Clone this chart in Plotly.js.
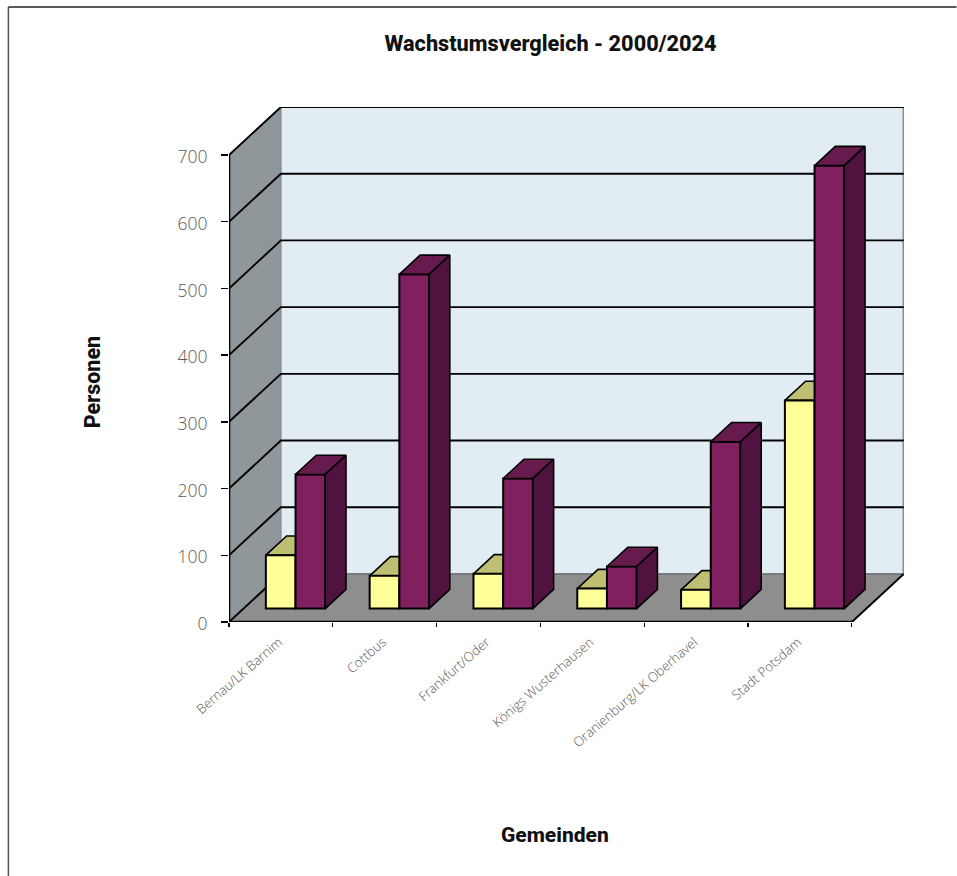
<!DOCTYPE html>
<html>
<head>
<meta charset="utf-8">
<script src="https://cdn.plot.ly/plotly-3.0.1.min.js"></script>
<style>html,body{margin:0;padding:0;background:#fff;overflow:hidden}#chart{width:957px;height:876px}</style>
</head>
<body>
<div id="chart"></div>
<script>
var categories = ["Bernau/LK Barnim","Cottbus","Frankfurt/Oder","Königs Wusterhausen","Oranienburg/LK Oberhavel","Stadt Potsdam"];
var seriesYellow = [80, 49, 52, 30, 28, 312];
var seriesPurple = [201, 501, 195, 63, 250, 664];
var yTicks = [0,100,200,300,400,500,600,700];

var W = 957, H = 876;
var mL = 228.8, mR = 52.6, mT = 107, mB = 254;
var xMax = 6, yMax = 700;
var DX = 0.5, DY = 72;        // full depth of the box in axis units
var D0 = 0.28, D1 = 0.68;     // depth of the bars inside the box
var barW = 0.286, barStart = 0.215;
var xRange = [0, (W - mL - mR) / 103.9];
var yRange = [0, yMax + DY];
var BLACK = '#000';

function poly(name, xs, ys, fill, color, width, axes) {
  var t = {type:'scatter', mode:'lines', name:name, x:xs, y:ys, cliponaxis:false,
           line:{color:color, width:width, simplify:false}, hoverinfo:'skip', showlegend:false};
  if (fill) { t.fill = 'toself'; t.fillcolor = fill; }
  if (axes) { t.xaxis = 'x2'; t.yaxis = 'y2'; }
  return t;
}

var traces = [];
// walls and floor
traces.push(poly('left wall', [0,DX,DX,0,0],[0,DY,yMax+DY,yMax,0],'#8f979a','#7d8588',1));
traces.push(poly('back wall', [DX,xMax+DX,xMax+DX,DX,DX],[DY,DY,yMax+DY,yMax+DY,DY],'#e1ecf3','#8a9094',1.5));
traces.push(poly('floor', [0,xMax,xMax+DX,DX,0],[0,0,DY,DY,0],'#8e8e8e','#6f7376',1.5));
// back right edge
traces.push(poly('right edge',[xMax+DX,xMax+DX],[DY,yMax+DY],null,'#8c8c8c',2.5));
// gridlines
var gx = [], gy = [];
yTicks.slice(1).forEach(function(v){ gx.push(0,DX,xMax+DX,null); gy.push(v,v+DY,v+DY,null); });
gx.push(0,DX,null,xMax,xMax+DX); gy.push(0,DY,null,0,DY);
traces.push(poly('gridlines',gx,gy,null,BLACK,1.9));
// axis lines
traces.push(poly('axis lines',[0,0,xMax],[yMax,0,0],null,BLACK,2.6));

function xOf(i, k) { return i + barStart + k * barW + D0 * DX; }
var base = D0 * DY, dDx = (D1 - D0) * DX, dDy = (D1 - D0) * DY;

function topFace(vals, k) {
  var xs = [], ys = [];
  vals.forEach(function(v,i){
    var a = xOf(i,k), b = a + barW, t = base + v;
    xs.push(a,b,b+dDx,a+dDx,a,null); ys.push(t,t,t+dDy,t+dDy,t,null);
  });
  return {x:xs, y:ys};
}
function sideFace(vals, k) {
  var xs = [], ys = [];
  vals.forEach(function(v,i){
    var b = xOf(i,k) + barW, t = base + v;
    xs.push(b,b+dDx,b+dDx,b,b,null); ys.push(base,base+dDy,t+dDy,t,base,null);
  });
  return {x:xs, y:ys};
}
var yt = topFace(seriesYellow,0);
traces.push(poly('2000 top',yt.x,yt.y,'#bfbf73',BLACK,1.6));

// bars on the overlaid subplot, so they cover the yellow tops
function barTrace(name, vals, k, color) {
  return {type:'bar', name:name, xaxis:'x2', yaxis:'y2', showlegend:false,
    x: vals.map(function(v,i){ return xOf(i,k) + barW/2; }),
    y: vals, base: vals.map(function(){ return base; }), width: barW,
    marker:{color:color, line:{color:BLACK, width:2}}, hoverinfo:'y'};
}
traces.push(barTrace('2000',seriesYellow,0,'#ffff99'));
traces.push(barTrace('2024',seriesPurple,1,'#802060'));
var pt = topFace(seriesPurple,1), ps = sideFace(seriesPurple,1);
traces.push(poly('2024 top',pt.x,pt.y,'#661a4d',BLACK,1.6,true));
traces.push(poly('2024 side',ps.x,ps.y,'#501340',BLACK,1.6,true));

var tickFont = 'Open Sans, sans-serif';
var boldFont = 'Roboto, sans-serif';
function px(x){ return (x - mL) / (W - mL - mR); }
function py(y){ return 1 - (y - mT) / (H - mT - mB); }

var layout = {
  width:W, height:H, paper_bgcolor:'#fff', plot_bgcolor:'rgba(0,0,0,0)',
  margin:{l:mL, r:mR, t:mT, b:mB, pad:0},
  barmode:'overlay', showlegend:false,
  title:{text:'Wachstumsvergleich - 2000/2024', xref:'container', yref:'container',
         x:550.5/W, xanchor:'center', y:1-43/H, yanchor:'middle',
         font:{family:boldFont, size:21.7, color:'#111', weight:800}},
  xaxis:{range:xRange, tickmode:'array', tickvals:categories.map(function(c,i){return i+0.5;}),
         ticktext:categories, tickangle:-41, ticks:'', showgrid:false, zeroline:false, showline:false,
         tickfont:{family:tickFont, size:13.2, color:'#5a5a5a', weight:300}, ticklabelstandoff:9, ticklabelshift:-2},
  yaxis:{range:yRange, tickmode:'array', tickvals:yTicks, ticks:'outside', ticklen:7, tickwidth:1.5,
         tickcolor:BLACK, showgrid:false, zeroline:false, showline:false, ticklabelstandoff:10, ticklabelshift:2,
         tickfont:{family:tickFont, size:17.5, color:'#5a5a5a', weight:300}},
  xaxis2:{range:xRange, overlaying:'x', anchor:'y', side:'bottom', tickmode:'array',
          tickvals:[0,1,2,3,4,5,6], ticks:'outside', ticklen:4, tickwidth:1.2, tickcolor:BLACK,
          showticklabels:false, showgrid:false, zeroline:false, showline:false},
  yaxis2:{range:yRange, overlaying:'y', anchor:'x', ticks:'', showticklabels:false,
          showgrid:false, zeroline:false, showline:false},
  annotations:[
    {text:'Personen', xref:'paper', yref:'paper', x:px(92), y:py(382), xanchor:'center', yanchor:'middle',
     showarrow:false, textangle:-90, font:{family:boldFont, size:21.5, color:'#111', weight:800}},
    {text:'Gemeinden', xref:'paper', yref:'paper', x:px(555.5), y:py(835), xanchor:'center', yanchor:'middle',
     showarrow:false, font:{family:boldFont, size:21, color:'#111', weight:800}}
  ],
  shapes:[
    {type:'line', xref:'paper', yref:'paper', x0:px(8), x1:px(8), y0:py(7), y1:py(876), line:{color:'#555', width:1.5}},
    {type:'line', xref:'paper', yref:'paper', x0:px(8), x1:px(957), y0:py(7), y1:py(7), line:{color:'#222', width:1.5}}
  ]
};
Plotly.newPlot('chart', traces, layout, {displayModeBar:false, staticPlot:true});
</script>
</body>
</html>
